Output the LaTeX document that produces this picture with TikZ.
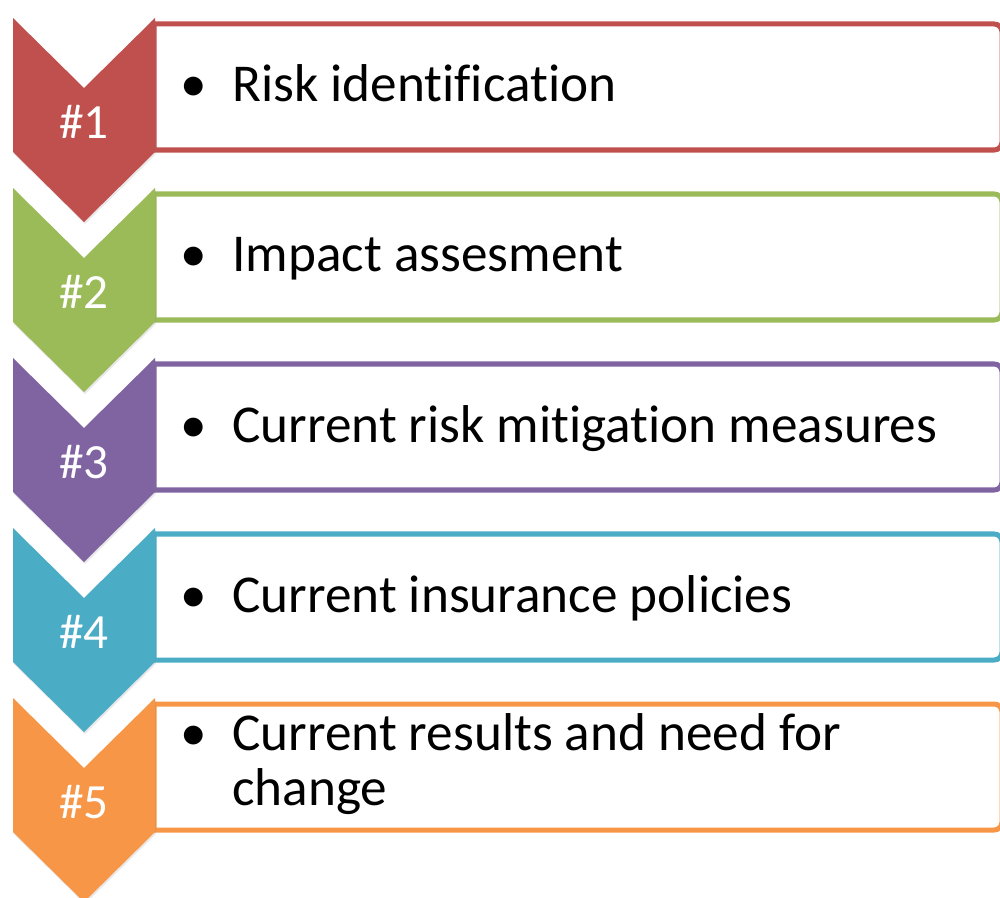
\documentclass[tikz,border=0pt]{standalone}
\usepackage{fontspec}
\setmainfont{Carlito}[Ligatures=NoCommon]
\usetikzlibrary{shadows}
\definecolor{stepred}{HTML}{C0504D}
\definecolor{stepgreen}{HTML}{9BBB59}
\definecolor{steppurple}{HTML}{8064A2}
\definecolor{stepcyan}{HTML}{4BACC6}
\definecolor{steporange}{HTML}{F79646}
\tikzset{
  chevron/.style={fill=#1, drop shadow={shadow xshift=0.5pt, shadow yshift=-1.2pt, opacity=0.18}},
  itembox/.style={draw=#1, fill=white, line width=2.85pt, rounded corners=4.5pt},
  stepnum/.style={text=white, font=\fontsize{28}{28}\selectfont},
  itemtext/.style={anchor=base west, align=left, inner sep=0pt, font=\fontsize{30.3}{31.3}\selectfont}
}
\newcommand{\itembullet}{\llap{\textbullet\hspace{0.5cm}}}
\begin{document}
\begin{tikzpicture}[x=0.02cm, y=-0.02cm]
  \useasboundingbox (0,0) rectangle (1000,898);
  % Step 1
  \draw[itembox=stepred] (154,150) [sharp corners] -- (154,24) [rounded corners=4.5pt] -- (1002,24) -- (1002,150) [sharp corners] -- cycle;
  \fill[chevron=stepred] (13,18) -- (84,88) -- (155,18) -- (155,152) -- (84,222) -- (13,152) -- cycle;
  \node[stepnum] (num1) at (84,122) {\#1};
  \node[itemtext] (item1) at (232,102) {\itembullet Risk identification};
  % Step 2
  \draw[itembox=stepgreen] (154,320) [sharp corners] -- (154,194) [rounded corners=4.5pt] -- (1002,194) -- (1002,320) [sharp corners] -- cycle;
  \fill[chevron=stepgreen] (13,188) -- (84,258) -- (155,188) -- (155,322) -- (84,392) -- (13,322) -- cycle;
  \node[stepnum] (num2) at (84,292) {\#2};
  \node[itemtext] (item2) at (232,272) {\itembullet Impact assesment};
  % Step 3
  \draw[itembox=steppurple] (154,490) [sharp corners] -- (154,364) [rounded corners=4.5pt] -- (1002,364) -- (1002,490) [sharp corners] -- cycle;
  \fill[chevron=steppurple] (13,358) -- (84,428) -- (155,358) -- (155,492) -- (84,562) -- (13,492) -- cycle;
  \node[stepnum] (num3) at (84,462) {\#3};
  \node[itemtext] (item3) at (232,442) {\itembullet Current risk mitigation measures};
  % Step 4
  \draw[itembox=stepcyan] (154,660) [sharp corners] -- (154,534) [rounded corners=4.5pt] -- (1002,534) -- (1002,660) [sharp corners] -- cycle;
  \fill[chevron=stepcyan] (13,528) -- (84,598) -- (155,528) -- (155,662) -- (84,732) -- (13,662) -- cycle;
  \node[stepnum] (num4) at (84,632) {\#4};
  \node[itemtext] (item4) at (232,612) {\itembullet Current insurance policies};
  % Step 5, two lines
  \draw[itembox=steporange] (154,830) [sharp corners] -- (154,704) [rounded corners=4.5pt] -- (1002,704) -- (1002,830) [sharp corners] -- cycle;
  \fill[chevron=steporange] (13,698) -- (84,768) -- (155,698) -- (155,832) -- (84,902) -- (13,832) -- cycle;
  \node[stepnum] (num5) at (84,802) {\#5};
  \node[itemtext] (item5) at (232,805) {\itembullet Current results and need for\\change};
\end{tikzpicture}
\end{document}
